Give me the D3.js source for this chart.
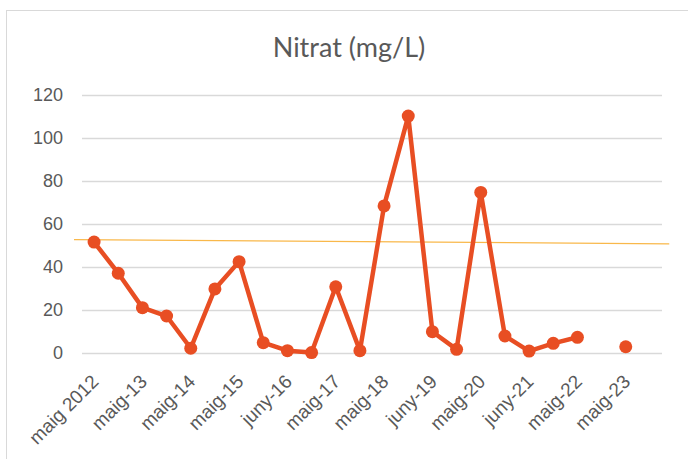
<!DOCTYPE html>
<html>
<head>
<meta charset="utf-8">
<script src="https://cdn.jsdelivr.net/npm/d3@7"></script>
<style>
  body { margin: 0; background: #fff; }
  svg { display: block; font-family: Lato, "Open Sans", sans-serif; }
</style>
</head>
<body>
<svg width="688" height="459"></svg>
<script>
// one sample per category, null where nothing was measured
var categories = ["maig 2012", "", "maig-13", "", "maig-14", "", "maig-15", "", "juny-16", "",
                  "maig-17", "", "maig-18", "", "juny-19", "", "maig-20", "", "juny-21", "",
                  "maig-22", "", "maig-23", ""];
var nitrat = [51.6, 37.1, 21.1, 17.2, 2.2, 29.8, 42.5, 4.8, 1.1, 0.2,
              30.8, 1.1, 68.4, 110.2, 9.9, 1.7, 74.7, 7.9, 0.9, 4.5,
              7.3, null, 2.9, null];
var yTicks = [0, 20, 40, 60, 80, 100, 120];
// trend line ends (category index, value)
var trendIdx = [-0.83, 23.8];
var trendVal = [52.7, 50.8];

var svg = d3.select("svg"),
    margin = {top: 95, right: 26, bottom: 106, left: 82},
    width = +svg.attr("width") - margin.left - margin.right,
    height = +svg.attr("height") - margin.top - margin.bottom;

// chart frame (only top / left edges are in view)
svg.append("rect")
    .attr("x", 6.5)
    .attr("y", 10.5)
    .attr("width", 700)
    .attr("height", 470)
    .attr("fill", "none")
    .attr("stroke", "#d9d9d9");

var x = d3.scaleBand()
          .domain(d3.range(categories.length))
          .range([0, width]);

var y = d3.scaleLinear()
          .domain([0, 120])
          .range([height, 0]);

var cx = function(i) { return x(i) + x.bandwidth() / 2; };
var xi = function(v) { return x.bandwidth() / 2 + v * x.step(); };

var g = svg.append("g")
           .attr("transform", "translate(" + margin.left + "," + margin.top + ")");

g.append("g")
    .attr("class", "grid")
  .selectAll("line")
  .data(yTicks)
  .enter().append("line")
    .attr("x1", 0)
    .attr("x2", width)
    .attr("y1", function(d) { return Math.round(y(d)) + 0.5; })
    .attr("y2", function(d) { return Math.round(y(d)) + 0.5; })
    .attr("stroke", "#d9d9d9")
    .attr("stroke-width", 1.3);

var yAxis = g.append("g")
    .attr("transform", "translate(-19,0)")
    .call(d3.axisLeft(y).tickValues(yTicks).tickSize(0).tickPadding(0));
yAxis.select(".domain").remove();
yAxis.selectAll("text")
    .attr("fill", "#595959")
    .style("font-size", "18px");

var xAxis = g.append("g")
    .attr("transform", "translate(0," + height + ")")
    .call(d3.axisBottom(x).tickSize(0).tickFormat(function(i) { return categories[i]; }));
xAxis.select(".domain").remove();
xAxis.selectAll("text")
    .attr("fill", "#595959")
    .style("font-size", "19px")
    .attr("text-anchor", "end")
    .attr("y", 0)
    .attr("dy", "0.35em")
    .attr("transform", "translate(1,25) rotate(-45)");

g.append("line")
    .attr("x1", xi(trendIdx[0]))
    .attr("x2", xi(trendIdx[1]))
    .attr("y1", y(trendVal[0]))
    .attr("y2", y(trendVal[1]))
    .attr("stroke", "#f9b84a")
    .attr("stroke-width", 1.3);

var line = d3.line()
    .defined(function(d) { return d != null; })
    .x(function(d, i) { return cx(i); })
    .y(function(d) { return y(d); });

g.append("path")
    .datum(nitrat)
    .attr("fill", "none")
    .attr("stroke", "#e84e23")
    .attr("stroke-width", 4.5)
    .attr("stroke-linejoin", "round")
    .attr("d", line);

g.selectAll(".dot")
  .data(nitrat.map(function(v, i) { return {i: i, v: v}; }).filter(function(d) { return d.v != null; }))
  .enter().append("circle")
    .attr("class", "dot")
    .attr("cx", function(d) { return cx(d.i); })
    .attr("cy", function(d) { return y(d.v); })
    .attr("r", 6.5)
    .attr("fill", "#e84e23");

svg.append("text")
    .text("Nitrat (mg/L)")
    .attr("x", 349)
    .attr("y", 57)
    .attr("text-anchor", "middle")
    .attr("fill", "#595959")
    .style("font-size", "27px");
</script>
</body>
</html>
